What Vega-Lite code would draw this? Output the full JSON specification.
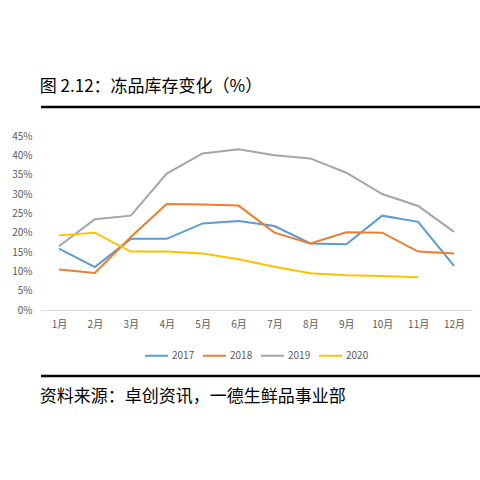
{
  "$schema": "https://vega.github.io/schema/vega-lite/v6.json",
  "padding": {"left": 9, "top": 77, "right": 0, "bottom": 0},
  "background": "white",
  "columns": 1,
  "align": "none",
  "spacing": 0,
  "resolve": {"scale": {"color": "independent"}, "legend": {"color": "independent"}},
  "config": {"view": {"stroke": null}, "font": "Noto Sans CJK SC", "legend": {"layout": {"bottom": {"anchor": "middle", "direction": "horizontal"}}}},
  "concat": [
    {
      "width": 462,
      "height": 24,
      "title": {"text": "图 2.12：冻品库存变化（%）", "orient": "top", "anchor": "start", "fontSize": 17, "font": "Noto Sans CJK SC", "fontWeight": "normal", "color": "#000000", "offset": 10},
      "data": {"values": [{"pos": 1}]},
      "mark": {"type": "rule", "color": "#000000", "strokeWidth": 2.5},
      "encoding": {"y": {"field": "pos", "type": "quantitative", "scale": {"domain": [0, 1]}, "axis": null}}
    },
    {
      "width": 431,
      "height": 174,
      "data": {"values": [
        {"month": "1月", "year": "2017", "value": 15.9},
        {"month": "2月", "year": "2017", "value": 11.1},
        {"month": "3月", "year": "2017", "value": 18.4},
        {"month": "4月", "year": "2017", "value": 18.4},
        {"month": "5月", "year": "2017", "value": 22.4},
        {"month": "6月", "year": "2017", "value": 23.0},
        {"month": "7月", "year": "2017", "value": 21.7},
        {"month": "8月", "year": "2017", "value": 17.2},
        {"month": "9月", "year": "2017", "value": 17.0},
        {"month": "10月", "year": "2017", "value": 24.4},
        {"month": "11月", "year": "2017", "value": 22.8},
        {"month": "12月", "year": "2017", "value": 11.4},
        {"month": "1月", "year": "2018", "value": 10.5},
        {"month": "2月", "year": "2018", "value": 9.6},
        {"month": "3月", "year": "2018", "value": 18.9},
        {"month": "4月", "year": "2018", "value": 27.4},
        {"month": "5月", "year": "2018", "value": 27.3},
        {"month": "6月", "year": "2018", "value": 27.0},
        {"month": "7月", "year": "2018", "value": 20.0},
        {"month": "8月", "year": "2018", "value": 17.2},
        {"month": "9月", "year": "2018", "value": 20.1},
        {"month": "10月", "year": "2018", "value": 20.0},
        {"month": "11月", "year": "2018", "value": 15.1},
        {"month": "12月", "year": "2018", "value": 14.6},
        {"month": "1月", "year": "2019", "value": 16.5},
        {"month": "2月", "year": "2019", "value": 23.5},
        {"month": "3月", "year": "2019", "value": 24.4},
        {"month": "4月", "year": "2019", "value": 35.3},
        {"month": "5月", "year": "2019", "value": 40.5},
        {"month": "6月", "year": "2019", "value": 41.6},
        {"month": "7月", "year": "2019", "value": 40.0},
        {"month": "8月", "year": "2019", "value": 39.2},
        {"month": "9月", "year": "2019", "value": 35.5},
        {"month": "10月", "year": "2019", "value": 30.0},
        {"month": "11月", "year": "2019", "value": 26.9},
        {"month": "12月", "year": "2019", "value": 20.2},
        {"month": "1月", "year": "2020", "value": 19.3},
        {"month": "2月", "year": "2020", "value": 20.0},
        {"month": "3月", "year": "2020", "value": 15.1},
        {"month": "4月", "year": "2020", "value": 15.1},
        {"month": "5月", "year": "2020", "value": 14.6},
        {"month": "6月", "year": "2020", "value": 13.1},
        {"month": "7月", "year": "2020", "value": 11.2},
        {"month": "8月", "year": "2020", "value": 9.5},
        {"month": "9月", "year": "2020", "value": 9.0},
        {"month": "10月", "year": "2020", "value": 8.8},
        {"month": "11月", "year": "2020", "value": 8.5}
      ]},
      "mark": {"type": "line", "strokeWidth": 2},
      "encoding": {
        "x": {"field": "month", "type": "ordinal", "sort": ["1月","2月","3月","4月","5月","6月","7月","8月","9月","10月","11月","12月"],
              "scale": {"type": "point", "padding": 0.5},
              "axis": {"title": null, "labelAngle": 0, "ticks": false, "grid": false, "domainColor": "#d9d9d9", "domainWidth": 1, "labelColor": "#595959", "labelFontSize": 10, "labelPadding": 9}},
        "y": {"field": "value", "type": "quantitative", "scale": {"domain": [0, 45]},
              "axis": {"title": null, "values": [0,5,10,15,20,25,30,35,40,45], "labelExpr": "datum.value + '%'", "ticks": false, "domain": false, "grid": false, "labelColor": "#595959", "labelFontSize": 10, "labelPadding": 9, "minExtent": 32}},
        "color": {"field": "year", "type": "nominal",
                  "scale": {"domain": ["2017","2018","2019","2020"], "range": ["#5B9BD5","#ED7D31","#A5A5A5","#FFC000"]},
                  "legend": {"orient": "bottom", "direction": "horizontal", "title": null, "symbolType": "stroke", "symbolSize": 529, "symbolStrokeWidth": 2, "labelFontSize": 10, "labelColor": "#595959", "offset": 14, "columnPadding": 4, "labelOffset": 3, "padding": 0}}
      }
    },
    {
      "width": 462,
      "height": 15,
      "title": {"text": "资料来源：卓创资讯，一德生鲜品事业部", "orient": "bottom", "anchor": "start", "fontSize": 17, "font": "Noto Sans CJK SC", "fontWeight": "normal", "color": "#000000", "offset": 12},
      "data": {"values": [{"pos": 0}]},
      "mark": {"type": "rule", "color": "#000000", "strokeWidth": 2.5},
      "encoding": {"y": {"field": "pos", "type": "quantitative", "scale": {"domain": [0, 1]}, "axis": null}}
    }
  ]
}
